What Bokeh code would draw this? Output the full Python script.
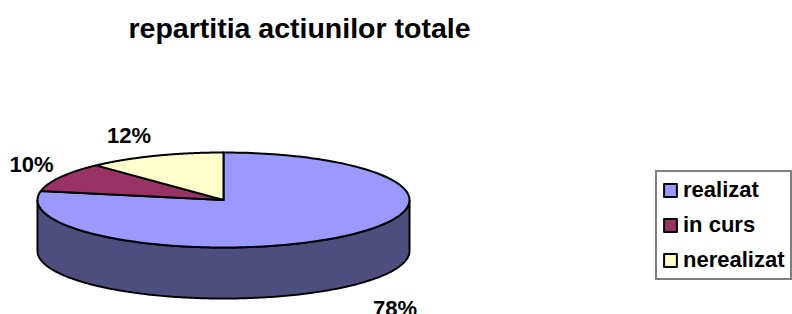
import numpy as np
from bokeh.plotting import figure
from bokeh.models import ColumnDataSource, Range1d, Legend, LegendItem, Label
from bokeh.core.properties import value
from bokeh.embed import file_html
from bokeh.resources import INLINE

# ---- data ----
categories = ["realizat", "in curs", "nerealizat"]
values = [78, 10, 12]
pct_labels = ["78%", "10%", "12%"]
title_text = "repartitia actiunilor totale"

# ---- style / layout ----
top_colors = ["#9999FF", "#993366", "#FFFFCC"]
side_colors = ["#4D4D80", "#4D1A33", "#808066"]
W, H = 792, 314
CX, CY, RX, RY, DEPTH = 223, 114.5, 186, 47.5, 51
label_offsets = [(53, -21), (-29, 13), (-26, 20)]
FONT = "Liberation Sans"

p = figure(width=W, height=H, x_range=Range1d(0, W), y_range=Range1d(0, H),
           output_backend="svg", toolbar_location=None, min_border=0,
           x_axis_type=None, y_axis_type=None, outline_line_color=None)
p.grid.visible = False

fr = np.array(values, dtype=float) / sum(values)
starts = 90 - 360 * np.concatenate([[0], np.cumsum(fr)[:-1]])
ends = starts - 360 * fr


def arc(a0, a1, n=200, dy=0.0):
    t = np.radians(np.linspace(a0, a1, n))
    return CX + RX * np.cos(t), CY + RY * np.sin(t) - dy


# sides (front half only: angles where sin<0)
side_xs, side_ys, side_cols = [], [], []
for s, e, c in zip(starts, ends, side_colors):
    lo, hi = e, s
    for k in range(-2, 3):
        flo, fhi = -180 + 360 * k, 0 + 360 * k
        a, b = max(lo, flo), min(hi, fhi)
        if b > a:
            tx, ty = arc(b, a)
            bx, by = arc(a, b, dy=DEPTH)
            side_xs.append(list(tx) + list(bx))
            side_ys.append(list(ty) + list(by))
            side_cols.append(c)
p.patches(side_xs, side_ys, fill_color=side_cols, line_color="black", line_width=2)

# top face wedges
top_xs, top_ys = [], []
for s, e in zip(starts, ends):
    ax, ay = arc(s, e)
    top_xs.append([CX] + list(ax))
    top_ys.append([CY] + list(ay))
src = ColumnDataSource(dict(xs=top_xs, ys=top_ys, color=top_colors, label=categories))
r = p.patches("xs", "ys", source=src, fill_color="color", line_color="black",
              line_width=2, line_join="round")

# percentage labels
mids = np.radians((starts + ends) / 2)
lx, ly = [], []
for m, (ox, oy) in zip(mids, label_offsets):
    x = CX + RX * np.cos(m)
    y = CY + RY * np.sin(m) - (DEPTH if np.sin(m) < 0 else 0)
    lx.append(x + ox)
    ly.append(y + oy)
p.text(lx, ly, text=pct_labels, text_align="center", text_baseline="middle",
       text_font=value(FONT), text_font_style="bold", text_font_size="22px",
       text_color="black")

p.add_layout(Label(x=299, y=287, text=title_text, text_align="center",
                   text_baseline="middle", text_font=FONT, text_font_style="bold",
                   text_font_size="28.5px", text_color="black"))

legend = Legend(items=[LegendItem(label=c, renderers=[r], index=i) for i, c in enumerate(categories)],
                location=(655, 34), label_text_font=FONT, label_text_font_style="bold",
                label_text_font_size="22px", label_text_color="black",
                glyph_width=16, glyph_height=16,
                label_standoff=5, spacing=9, padding=5, margin=0,
                border_line_color="black", border_line_width=2,
                background_fill_color="white", background_fill_alpha=1.0)
p.add_layout(legend)

open("out.html", "w").write(file_html(p, INLINE))
